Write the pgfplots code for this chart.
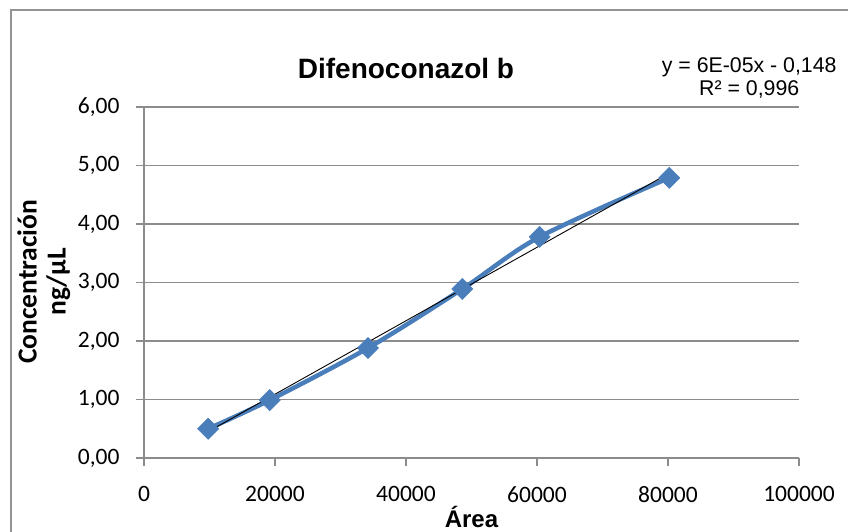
\documentclass[border=0pt]{standalone}
\usepackage{fontspec}
\usepackage{pgfplots}
\pgfplotsset{compat=1.18}
\setmainfont{Liberation Sans}
\newfontfamily\calibri{Carlito}
\definecolor{exblue}{HTML}{4A7EBB}
\definecolor{gridgray}{HTML}{8C8C8C}

\begin{document}
\begin{tikzpicture}
% picture size in pt = reference size in px
\useasboundingbox (-144pt,-73pt) rectangle (704pt,458pt);
\begin{axis}[
    scale only axis,
    width=655pt, height=351pt,
    xmin=0, xmax=100000,
    ymin=0, ymax=6,
    axis lines*=left,
    axis line style={gridgray, line width=1.3pt},
    scaled x ticks=false,
    scaled y ticks=false,
    xtick={0,20000,40000,60000,80000,100000},
    xticklabels={0,20000,40000,60000,80000,100000},
    ytick={0,1,2,3,4,5,6},
    yticklabels={{0,00},{1,00},{2,00},{3,00},{4,00},{5,00},{6,00}},
    tick align=outside,
    major tick length=8pt,
    tick style={gridgray, line width=1.1pt},
    ymajorgrids,
    grid style={gridgray, line width=1.3pt},
    tick label style={font=\calibri\fontsize{23.5}{26}\selectfont},
    xticklabel style={yshift=-17pt},
    yticklabel style={xshift=-13pt},
    clip=false,
]
\addplot[exblue, line width=4.5pt, smooth,
    mark=square*, mark size=7.5pt,
    mark options={rotate=45, line width=0.5pt}]
coordinates {
    (9800, 0.50)
    (19200, 0.99)
    (34200, 1.88)
    (48600, 2.89)
    (60400, 3.78)
    (80200, 4.79)
};
% linear trendline
\addplot[black, line width=0.9pt] coordinates {
    (9800, 0.45)
    (80200, 4.87)
};
\node[font=\bfseries\fontsize{28}{32}\selectfont] at (axis cs:40000,6.66) {Difenoconazol b};
\node[align=center, font=\fontsize{21.3}{23.5}\selectfont] at (axis cs:92400,6.5)
    {y = 6E-05x - 0,148\\R² = 0,996};
\node[rotate=90, align=center, font=\calibri\bfseries\fontsize{27.5}{29}\selectfont]
    at (axis cs:-15300,3.01) {Concentración\\ng/µL};
\node[font=\bfseries\fontsize{24}{28}\selectfont, inner sep=1pt] at (axis cs:50000,-1.0) {Área};
\end{axis}
\draw[gray!85, line width=2pt] (-133pt,-90pt) -- (-133pt,448pt) -- (720pt,448pt);
\end{tikzpicture}
\end{document}
